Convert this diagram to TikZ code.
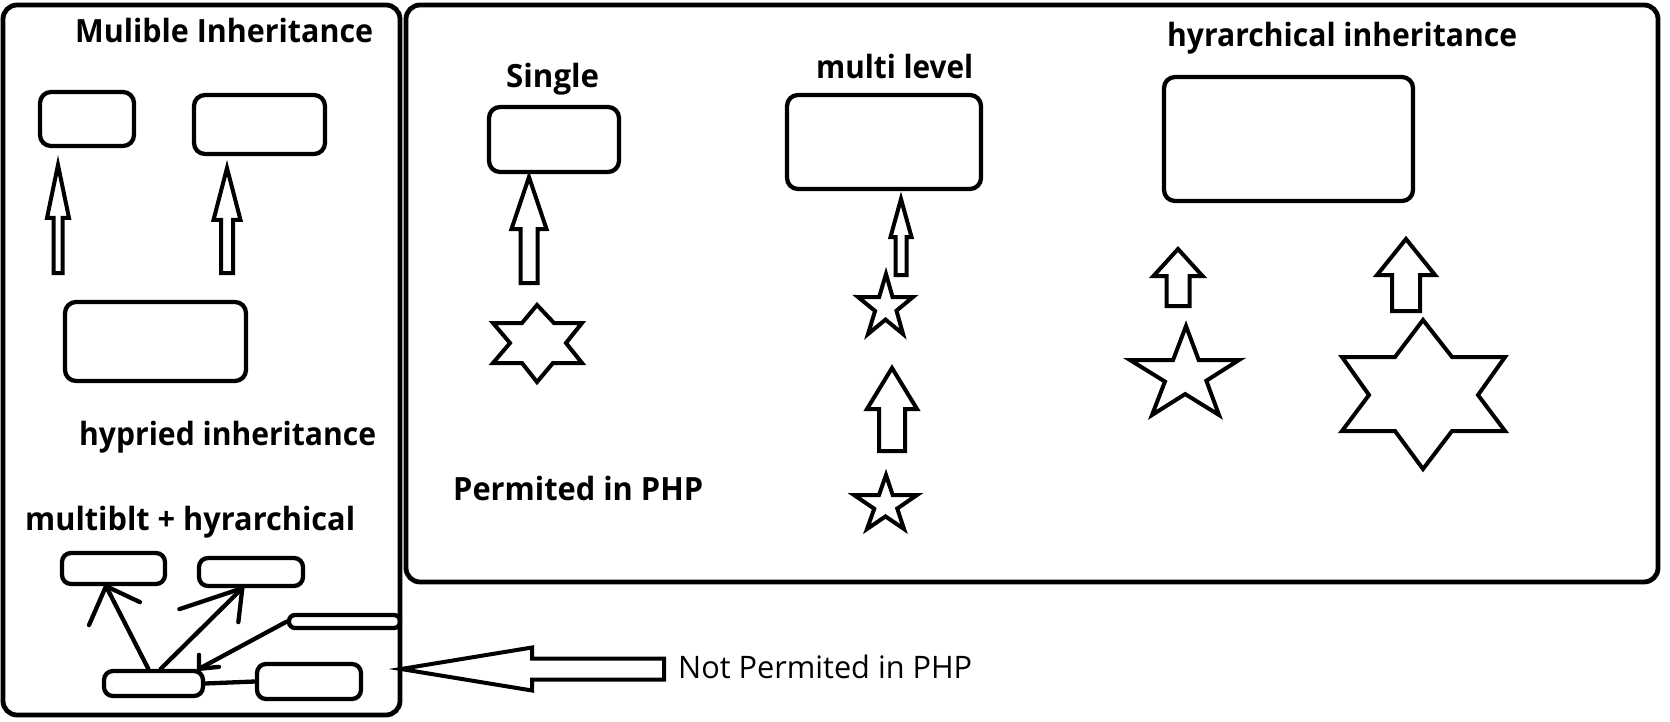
\documentclass[tikz,border=0pt]{standalone}
\usepackage{fontspec}
\setmainfont{Open Sans}
\usepackage{graphicx}
\usetikzlibrary{calc}
\newcommand\fitt[2]{\resizebox{#1pt}{\height}{#2}}
\newcommand\blkup[6]{%
  \draw[blk] (#1,#2) -- (#1+#4,#3) -- (#1+#5,#3) -- (#1+#5,#6) -- (#1-#5,#6) -- (#1-#5,#3) -- (#1-#4,#3) -- cycle;}
\newcommand\pstar[5]{%
  \coordinate (pT) at (#1); \coordinate (pL) at (#2); \coordinate (pR) at (#3);
  \coordinate (pBL) at (#4); \coordinate (pBR) at (#5);
  \draw[blk] (pT) -- (intersection of pT--pBR and pL--pR) -- (pR)
    -- (intersection of pR--pBL and pT--pBR) -- (pBR)
    -- (intersection of pR--pBL and pL--pBR) -- (pBL)
    -- (intersection of pL--pBR and pT--pBL) -- (pL)
    -- (intersection of pL--pR and pT--pBL) -- cycle;}
\begin{document}
\begin{tikzpicture}[x=1pt,y=-1pt,
  frame/.style={draw, line width=4.8pt, rounded corners=14pt, inner sep=0pt},
  cls/.style={draw, line width=4.3pt, rounded corners=11pt, inner sep=0pt},
  blk/.style={draw, line width=4pt, line join=miter, fill=white},
  lnk/.style={line width=4.3pt, line cap=round},
  lbl/.style={inner sep=0pt, anchor=base west, font=\fontsize{32}{36}\selectfont\bfseries},
  note/.style={inner sep=0pt, anchor=base west, font=\fontsize{31}{36}\selectfont}]
\useasboundingbox (0,0) rectangle (1670,722);
\fill[white] (0,0) rectangle (1670,722);

% frames
\node[frame, minimum width=397, minimum height=710] (leftframe) at (201.5,360) {};
\node[frame, minimum width=1252, minimum height=577] (rightframe) at (1032,293.5) {};

% ---------- multiple inheritance ----------
\node[lbl] (tmul) at (75,43) {\fitt{298}{Mulible Inheritance}};
\node[cls, minimum width=94, minimum height=54] (m1) at (87,119) {};
\node[cls, minimum width=131, minimum height=59] (m2) at (259.5,124.5) {};
\node[cls, minimum width=181, minimum height=79] (m3) at (155.5,341.5) {};
\blkup{58}{165}{218}{11}{4.5}{273}
\blkup{227}{168}{220}{13.5}{6}{273}

% ---------- hybrid ----------
\node[lbl] (thyb) at (79,445) {\fitt{297}{hypried inheritance}};
\node[lbl] (tmh) at (25,530) {\fitt{330}{multiblt + hyrarchical}};
\node[cls, rounded corners=9pt, minimum width=103, minimum height=31] (ha) at (113.5,568.5) {};
\node[cls, rounded corners=9pt, minimum width=104, minimum height=28] (hb) at (251,572) {};
\node[cls, rounded corners=6pt, minimum width=111, minimum height=13] (hc) at (344.5,621.5) {};
\node[cls, rounded corners=9pt, minimum width=99, minimum height=25] (hd) at (153.5,683.5) {};
\node[cls, rounded corners=9pt, minimum width=104, minimum height=35] (he) at (309,681.5) {};
\coordinate (pa) at ($(ha.south west)!0.43!(ha.south east)$);
\coordinate (pb) at ($(hb.south west)!0.42!(hb.south east)$);
\coordinate (pd) at ($(hd.north west)!0.94!(hd.north east)$);
\draw[lnk] ($(hd.north west)!0.45!(hd.north east)$) -- (pa);
\draw[lnk] (pa) -- ++(-17,39) (pa) -- ++(34,16);
\draw[lnk] ($(hd.north west)!0.57!(hd.north east)$) -- (pb);
\draw[lnk] (pb) -- ++(-63,21) (pb) -- ++(-4,34);
\draw[lnk] (hc.west) -- (pd);
\draw[lnk] (pd) -- ++(0,-14) (pd) -- ++(20,-2);
\draw[lnk] (hd.east) -- (he.west);

% not permitted arrow
\draw[blk] (401,669) -- (532,647.5) -- (532,658.5) -- (664,658.5) -- (664,679.5) -- (532,679.5) -- (532,690.5) -- cycle;
\node[note] (tnot) at (678,678) {\fitt{294}{Not Permited in PHP}};

% ---------- single ----------
\node[lbl] (tsin) at (506,88) {\fitt{93}{Single}};
\node[cls, minimum width=130, minimum height=65] (s1) at (554,139.5) {};
\blkup{529}{177}{229}{17.5}{8.5}{283}
\draw[blk] (537,305) -- (554,323) -- (582,323) -- (566,343) -- (582,363) -- (553,363) -- (537,382) -- (522,363) -- (493,363) -- (510,343) -- (493,323) -- (522,323) -- cycle;
\node[lbl] (tperm) at (453,500) {\fitt{250}{Permited in PHP}};

% ---------- multi level ----------
\node[lbl] (tml) at (816,79) {\fitt{157}{multi level}};
\node[cls, minimum width=194, minimum height=94] (ml1) at (884,142) {};
\blkup{901}{199}{237}{10.5}{5.5}{275}
\pstar{886,274}{858,297}{913,297}{868,334}{903,334}
\blkup{892}{368}{409}{25}{13}{451}
\pstar{886,475}{854,495}{917,495}{867,529}{904,529}

% ---------- hierarchical ----------
\node[lbl] (thier) at (1167,47) {\fitt{350}{hyrarchical inheritance}};
\node[cls, minimum width=249, minimum height=124] (h1) at (1288.5,139) {};
\blkup{1178}{249}{276}{24.5}{11.5}{306}
\blkup{1406}{239}{275}{29}{14}{311}
\pstar{1186,326}{1130,360}{1239,360}{1152,415}{1219,415}
\draw[blk] (1423,320) -- (1452,357) -- (1505,357) -- (1478,395) -- (1505,431) -- (1452,431) -- (1423,469) -- (1395,431) -- (1342,431) -- (1369,395) -- (1342,357) -- (1395,357) -- cycle;
\end{tikzpicture}
\end{document}
